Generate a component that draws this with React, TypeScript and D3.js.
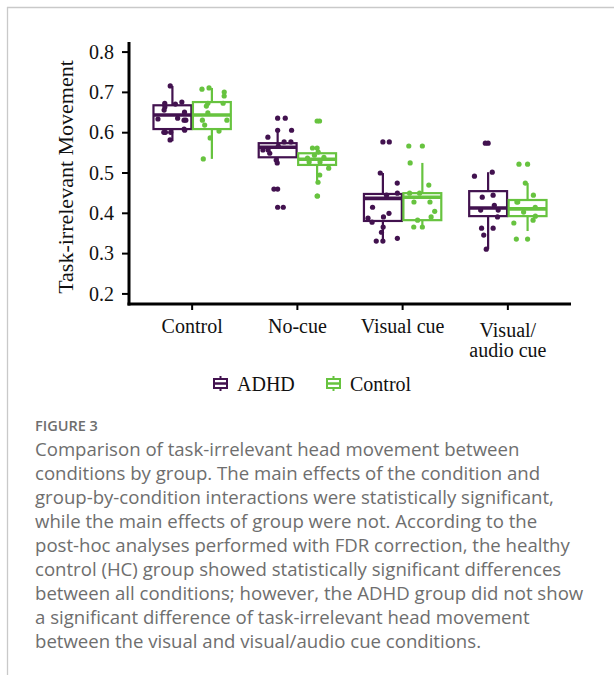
import React from "react";
import * as d3 from "d3";

const categories = ["Control", "No-cue", "Visual cue", "Visual/audio cue"];
const categoryLines = [["Control"], ["No-cue"], ["Visual cue"], ["Visual/", "audio cue"]];
const groups = ["ADHD", "Control"];
const groupColors = ["#42124f", "#67c33f"];
const yTicks = [0.2, 0.3, 0.4, 0.5, 0.6, 0.7, 0.8];

// box statistics per group, per condition
const adhdQ1 = [0.609, 0.539, 0.381, 0.393];
const adhdMedian = [0.644, 0.564, 0.437, 0.413];
const adhdQ3 = [0.668, 0.574, 0.448, 0.455];
const adhdLow = [0.579, 0.52, 0.336, 0.311];
const adhdHigh = [0.716, 0.604, 0.5, 0.502];

const hcQ1 = [0.609, 0.52, 0.383, 0.393];
const hcMedian = [0.644, 0.534, 0.44, 0.411];
const hcQ3 = [0.676, 0.549, 0.45, 0.433];
const hcLow = [0.535, 0.477, 0.371, 0.356];
const hcHigh = [0.711, 0.559, 0.525, 0.475];

// individual observations
const adhdPoints = [
  [0.716, 0.676, 0.673, 0.671, 0.664, 0.656, 0.651, 0.636, 0.634, 0.631, 0.631, 0.609, 0.606, 0.601, 0.601, 0.601, 0.582],
  [0.636, 0.46, 0.415, 0.606, 0.589, 0.577, 0.577, 0.567, 0.557, 0.557, 0.549, 0.532, 0.525],
  [0.577, 0.5, 0.475, 0.45, 0.445, 0.415, 0.4, 0.391, 0.388, 0.378, 0.366, 0.353, 0.338, 0.331],
  [0.574, 0.502, 0.492, 0.445, 0.44, 0.42, 0.408, 0.408, 0.391, 0.363, 0.363, 0.346, 0.311],
];
const hcPoints = [
  [0.708, 0.711, 0.701, 0.691, 0.673, 0.673, 0.666, 0.649, 0.631, 0.631, 0.619, 0.604, 0.587, 0.535],
  [0.629, 0.443, 0.562, 0.552, 0.544, 0.539, 0.537, 0.527, 0.527, 0.512, 0.495, 0.477],
  [0.567, 0.525, 0.47, 0.45, 0.45, 0.428, 0.428, 0.405, 0.391, 0.383, 0.366],
  [0.522, 0.336, 0.475, 0.445, 0.428, 0.428, 0.415, 0.403, 0.393, 0.383, 0.376],
];

const captionTitle = "FIGURE 3";
const captionLines = [
  "Comparison of task-irrelevant head movement between",
  "conditions by group. The main effects of the condition and",
  "group-by-condition interactions were statistically significant,",
  "while the main effects of group were not. According to the",
  "post-hoc analyses performed with FDR correction, the healthy",
  "control (HC) group showed statistically significant differences",
  "between all conditions; however, the ADHD group did not show",
  "a significant difference of task-irrelevant head movement",
  "between the visual and visual/audio cue conditions.",
];

const W = 614;
const H = 675;
const serif = "'Liberation Serif', 'Times New Roman', serif";
const sans = "'Open Sans', 'Noto Sans', sans-serif";

export default function App() {
  const x = d3.scalePoint<string>().domain(categories).range([129, 571]).padding(0.6);
  const y = d3.scaleLinear().domain([0.175, 0.825]).range([304, 42]);
  const step = x.step();
  const dodge = step * 0.1875;
  const boxW = step * 0.36;

  const stats = [
    { q1: adhdQ1, med: adhdMedian, q3: adhdQ3, lo: adhdLow, hi: adhdHigh, pts: adhdPoints },
    { q1: hcQ1, med: hcMedian, q3: hcQ3, lo: hcLow, hi: hcHigh, pts: hcPoints },
  ];

  const rng = d3.randomLcg(0.4217);
  const jitter = d3.randomUniform.source(rng)(-boxW * 0.4, boxW * 0.4);

  return (
    <svg width={W} height={H} style={{ position: "absolute", left: 0, top: 0, background: "#fff" }}>
      {/* frame */}
      <line x1={7} x2={W} y1={7.5} y2={7.5} stroke="#c9c9c9" strokeWidth={1.3} />
      <line x1={7.5} x2={7.5} y1={7} y2={H} stroke="#c9c9c9" strokeWidth={1.3} />

      {/* boxes */}
      {stats.map((s, gi) =>
        categories.map((c, ci) => {
          const cx = (x(c) as number) + (gi === 0 ? -dodge : dodge);
          const col = groupColors[gi];
          return (
            <g key={`b${gi}-${ci}`}>
              <line x1={cx} x2={cx} y1={y(s.hi[ci])} y2={y(s.q3[ci])} stroke={col} strokeWidth={2.2} />
              <line x1={cx} x2={cx} y1={y(s.q1[ci])} y2={y(s.lo[ci])} stroke={col} strokeWidth={2.2} />
              <rect
                x={cx - boxW / 2}
                y={y(s.q3[ci])}
                width={boxW}
                height={y(s.q1[ci]) - y(s.q3[ci])}
                fill="#fff"
                stroke={col}
                strokeWidth={2.2}
              />
              <line x1={cx - boxW / 2} x2={cx + boxW / 2} y1={y(s.med[ci])} y2={y(s.med[ci])} stroke={col} strokeWidth={3.6} />
              {s.pts[ci]
                .filter((v) => v > s.hi[ci] || v < s.lo[ci])
                .map((v, i) => (
                  <circle key={`o${i}`} cx={cx} cy={y(v)} r={2.6} fill={col} />
                ))}
            </g>
          );
        })
      )}
      {/* jittered points */}
      {stats.map((s, gi) =>
        categories.map((c, ci) => {
          const cx = (x(c) as number) + (gi === 0 ? -dodge : dodge);
          return s.pts[ci].map((v, i) => (
            <circle key={`p${gi}-${ci}-${i}`} cx={cx + jitter()} cy={y(v)} r={2.6} fill={groupColors[gi]} />
          ));
        })
      )}

      {/* y axis */}
      <line x1={129} x2={129} y1={42} y2={305.5} stroke="#000" strokeWidth={3} />
      {yTicks.map((t) => (
        <g key={t}>
          <line x1={122} x2={129} y1={y(t)} y2={y(t)} stroke="#000" strokeWidth={2} />
          <text x={114} y={y(t)} dy="0.34em" textAnchor="end" fontFamily={serif} fontSize={20} fill="#111">
            {t.toFixed(1)}
          </text>
        </g>
      ))}
      <text
        transform={`translate(73,${(y(0.175) + y(0.825)) / 2 + 4}) rotate(-90)`}
        textAnchor="middle"
        fontFamily={serif}
        fontSize={22}
        fill="#111"
      >
        Task-irrelevant Movement
      </text>

      {/* x axis */}
      <line x1={127.5} x2={571} y1={304} y2={304} stroke="#000" strokeWidth={3} />
      {categories.map((c, ci) => (
        <g key={c}>
          <line x1={x(c)} x2={x(c)} y1={304} y2={310} stroke="#000" strokeWidth={2} />
          {categoryLines[ci].map((ln, li) => (
            <text
              key={li}
              x={x(c)}
              y={(categoryLines[ci].length > 1 ? 337 : 333) + li * 20}
              textAnchor="middle"
              fontFamily={serif}
              fontSize={20}
              fill="#111"
            >
              {ln}
            </text>
          ))}
        </g>
      ))}

      {/* legend */}
      {groups.map((g, gi) => {
        const lx = gi === 0 ? 213 : 326;
        const col = groupColors[gi];
        return (
          <g key={g}>
            <line x1={lx + 7.5} x2={lx + 7.5} y1={376} y2={391} stroke={col} strokeWidth={2} />
            <rect x={lx + 1} y={379} width={13} height={9} fill="#fff" stroke={col} strokeWidth={2} />
            <line x1={lx + 1} x2={lx + 14} y1={383.5} y2={383.5} stroke={col} strokeWidth={2.5} />
            <text x={lx + 24} y={391} fontFamily={serif} fontSize={20} fill="#111">
              {g}
            </text>
          </g>
        );
      })}

      {/* caption */}
      <text x={35} y={431} fontFamily={sans} fontSize={14.5} fontWeight={600} fill="#6e6e6e">
        {captionTitle}
      </text>
      {captionLines.map((ln, i) => (
        <text key={i} x={35} y={456 + i * 24} fontFamily={sans} fontSize={18.6} fill="#6e6e6e">
          {ln}
        </text>
      ))}
    </svg>
  );
}
